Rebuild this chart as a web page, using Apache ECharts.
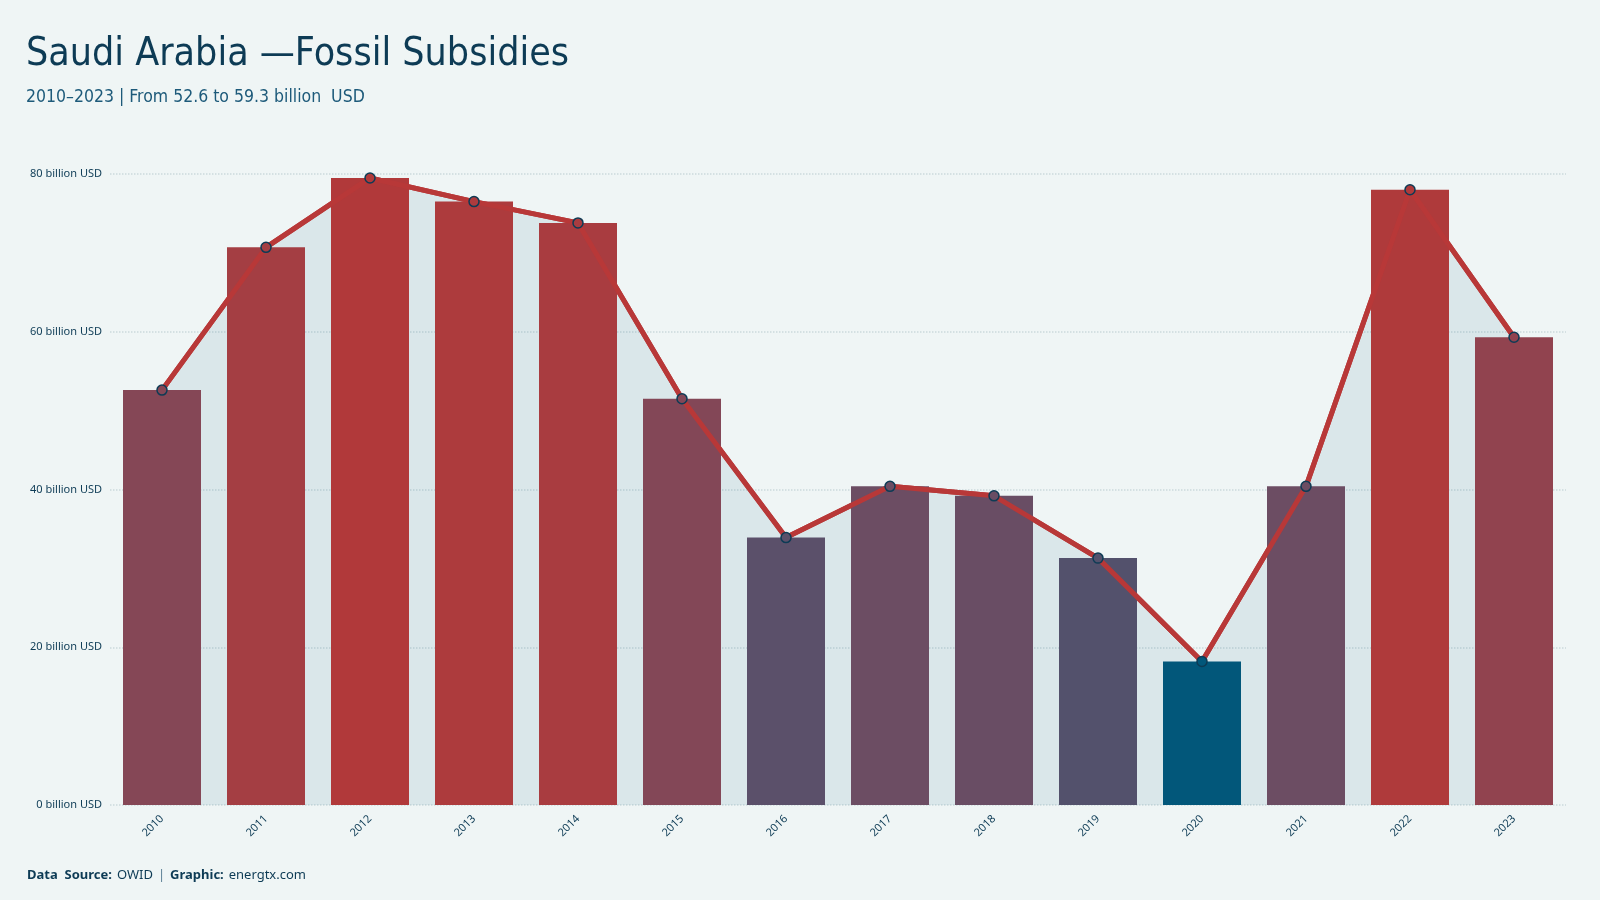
<!DOCTYPE html>
<html>
<head>
<meta charset="utf-8">
<script src="https://cdn.jsdelivr.net/npm/echarts@6/dist/echarts.min.js"></script>
<style>
  html, body { margin: 0; padding: 0; background: #eff5f5; }
  #main { width: 1600px; height: 900px; }
</style>
</head>
<body>
<div id="main"></div>
<script>
const years = ['2010', '2011', '2012', '2013', '2014', '2015', '2016', '2017', '2018', '2019', '2020', '2021', '2022', '2023'];
const subsidies = [52.6, 70.7, 79.5, 76.5, 73.8, 51.5, 33.9, 40.4, 39.2, 31.3, 18.2, 40.4, 78.0, 59.3];
const yTicks = [0, 20, 40, 60, 80];

// bar colour ramp: blue (low) -> red (high); red channel eased, green/blue linear
const lowColor = [2, 87, 122];
const highColor = [177, 57, 58];
const ramp = [];
for (let i = 0; i <= 20; i++) {
  const t = i / 20;
  const r = Math.round(lowColor[0] + (highColor[0] - lowColor[0]) * Math.sqrt(t));
  const g = Math.round(lowColor[1] + (highColor[1] - lowColor[1]) * t);
  const b = Math.round(lowColor[2] + (highColor[2] - lowColor[2]) * t);
  ramp.push('rgb(' + r + ',' + g + ',' + b + ')');
}

const chartDom = document.getElementById('main');
const myChart = echarts.init(chartDom);

const condensed = "'DejaVu Sans Condensed', 'Roboto Condensed', 'Liberation Sans Narrow', Roboto, sans-serif";

const option = {
  backgroundColor: '#eff5f5',
  title: [
    {
      text: 'Saudi Arabia —Fossil Subsidies',
      subtext: '2010–2023 | From 52.6 to 59.3 billion  USD',
      left: 21,
      top: 30,
      itemGap: 14,
      textStyle: { fontFamily: condensed, fontSize: 39, fontWeight: 'normal', color: '#0d3b55' },
      subtextStyle: { fontFamily: condensed, fontSize: 17.5, color: '#1d5a7a' }
    },
    {
      text: '{b|Data  Source:} {n|OWID} {s||} {b|Graphic:} {n|energtx.com}',
      left: 22,
      top: 861,
      textStyle: {
        fontWeight: 'normal',
        rich: {
          b: { fontFamily: 'Noto Sans', fontSize: 13, fontWeight: 'bold', color: '#0d3b55' },
          n: { fontFamily: 'Noto Sans', fontSize: 13, fontWeight: 'normal', color: '#0d3b55' },
          s: { fontFamily: 'Noto Sans', fontSize: 13, fontWeight: 'normal', color: '#5a7f95' }
        }
      }
    }
  ],
  grid: { left: 110, right: 34, top: 174, bottom: 95 },
  visualMap: {
    show: false,
    type: 'continuous',
    seriesIndex: [0, 2],
    min: Math.min(...subsidies),
    max: Math.max(...subsidies),
    inRange: { color: ramp }
  },
  xAxis: {
    type: 'category',
    data: years,
    axisLine: { show: false },
    axisTick: { show: false },
    axisLabel: { rotate: 45, fontFamily: 'Noto Sans', fontSize: 11, color: '#0d3b55', margin: 12 }
  },
  yAxis: {
    type: 'value',
    min: yTicks[0],
    max: yTicks[yTicks.length - 1],
    interval: 20,
    axisLine: { show: false },
    axisTick: { show: false },
    axisLabel: { fontFamily: 'Noto Sans', fontSize: 11, color: '#0d3b55', margin: 8, formatter: '{value} billion USD' },
    splitLine: { lineStyle: { color: '#ccd9dc', type: 'dotted', width: 1.5 } }
  },
  series: [
    {
      type: 'bar',
      data: subsidies,
      barCategoryGap: '25%',
      z: 3
    },
    {
      type: 'line',
      data: subsidies,
      symbol: 'none',
      lineStyle: { color: '#b83838', width: 5 },
      itemStyle: { color: '#b83838' },
      areaStyle: { color: 'rgba(2, 87, 122, 0.12)', origin: 'start' },
      z: 2
    },
    {
      type: 'line',
      data: subsidies,
      symbol: 'circle',
      symbolSize: 10,
      lineStyle: { color: '#b83838', width: 5 },
      itemStyle: { borderColor: '#0d3b55', borderWidth: 1.5 },
      z: 4
    }
  ]
};

myChart.setOption(option);
</script>
</body>
</html>
